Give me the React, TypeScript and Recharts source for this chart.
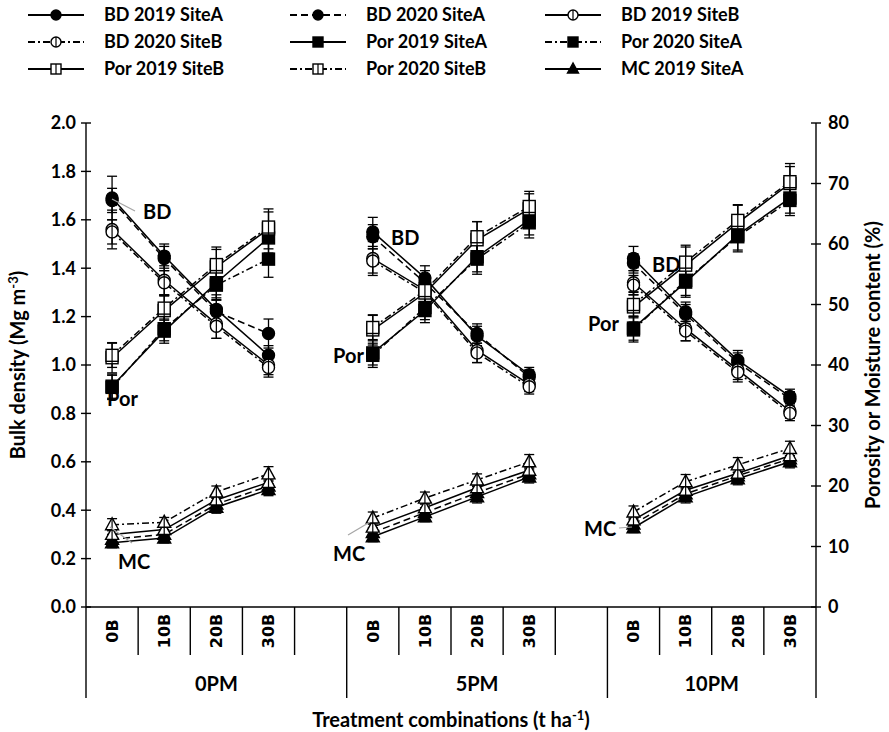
import React from 'react';
import { LineChart, Line, XAxis, YAxis, ErrorBar } from 'recharts';

// ---------- data ----------
const categories = ['0B', '10B', '20B', '30B', '', '0B', '10B', '20B', '30B', '', '0B', '10B', '20B', '30B'];
const groupNames = ['0PM', '5PM', '10PM'];
const groupStart = [0, 5, 10];
const groupSize = [5, 5, 4];
const pointSlots = [0, 1, 2, 3, 5, 6, 7, 8, 10, 11, 12, 13];
const leftTicks = [0, 0.2, 0.4, 0.6, 0.8, 1.0, 1.2, 1.4, 1.6, 1.8, 2.0];
const rightTicks = [0, 10, 20, 30, 40, 50, 60, 70, 80];

// values ordered: 0PM(0B,10B,20B,30B), 5PM(...), 10PM(...)
const bd2019A = [1.69, 1.45, 1.23, 1.04, 1.55, 1.36, 1.12, 0.96, 1.44, 1.22, 1.02, 0.87];
const bd2020A = [1.68, 1.44, 1.22, 1.13, 1.53, 1.34, 1.13, 0.95, 1.42, 1.21, 1.01, 0.86];
const bd2019B = [1.56, 1.35, 1.17, 1.0, 1.44, 1.31, 1.06, 0.92, 1.34, 1.15, 0.98, 0.81];
const bd2020B = [1.55, 1.34, 1.16, 0.99, 1.43, 1.3, 1.05, 0.91, 1.33, 1.14, 0.97, 0.8];
const por2019A = [36.5, 45.6, 53.6, 61.0, 42.0, 49.0, 57.9, 64.0, 46.1, 53.7, 61.5, 67.6];
const por2020A = [36.3, 46.0, 53.2, 57.5, 41.6, 49.5, 57.5, 63.5, 45.8, 54.0, 61.2, 67.2];
const por2019B = [41.2, 49.0, 56.2, 62.5, 45.8, 51.9, 60.7, 65.8, 49.6, 56.5, 63.5, 70.0];
const por2020B = [41.6, 49.4, 56.6, 62.8, 46.2, 52.3, 61.2, 66.2, 50.0, 57.0, 63.9, 70.3];
const mc2019A = [10.6, 11.4, 16.5, 19.4, 11.6, 14.9, 18.2, 21.5, 13.1, 18.2, 21.2, 24.0];
const mc2020A = [11.2, 12.0, 17.0, 20.0, 12.3, 15.6, 18.9, 22.0, 13.7, 18.7, 21.7, 24.5];
const mc2019B = [12.0, 12.8, 17.7, 20.6, 13.2, 16.4, 19.7, 22.6, 14.4, 19.3, 22.1, 25.0];
const mc2020B = [13.6, 14.0, 19.0, 22.0, 14.7, 18.0, 21.0, 24.0, 15.7, 20.7, 23.5, 26.2];

const bd2019AErr = [0.09, 0.05, 0.06, 0.04, 0.06, 0.05, 0.04, 0.03, 0.05, 0.04, 0.04, 0.03];
const bd2020AErr = [0.05, 0.05, 0.05, 0.06, 0.05, 0.05, 0.04, 0.03, 0.04, 0.04, 0.04, 0.03];
const bd2019BErr = [0.08, 0.06, 0.06, 0.04, 0.07, 0.05, 0.05, 0.03, 0.05, 0.05, 0.04, 0.03];
const bd2020BErr = [0.05, 0.05, 0.05, 0.04, 0.05, 0.05, 0.04, 0.03, 0.04, 0.04, 0.04, 0.03];
const por2019AErr = [2.0, 2.0, 2.5, 2.5, 2.0, 2.0, 2.5, 2.5, 2.0, 2.5, 2.5, 2.5];
const por2020AErr = [2.0, 2.0, 2.5, 3.0, 2.0, 2.0, 2.5, 2.5, 2.0, 2.5, 2.5, 2.5];
const por2019BErr = [2.5, 2.5, 3.3, 3.3, 2.5, 2.5, 3.0, 2.5, 2.5, 3.3, 3.0, 3.3];
const por2020BErr = [2.0, 2.0, 2.5, 2.5, 2.0, 2.0, 2.5, 2.5, 2.0, 2.5, 2.5, 2.5];
const mc2019AErr = [0.8, 0.8, 1.0, 1.0, 0.8, 0.8, 1.0, 1.0, 0.8, 1.0, 1.0, 1.0];
const mc2020AErr = [0.8, 0.8, 1.0, 1.0, 0.8, 0.8, 1.0, 1.0, 0.8, 1.0, 1.0, 1.0];
const mc2019BErr = [0.8, 0.8, 1.0, 1.0, 0.8, 0.8, 1.0, 1.0, 0.8, 1.0, 1.0, 1.0];
const mc2020BErr = [1.0, 0.8, 1.0, 1.2, 1.0, 1.0, 1.0, 1.2, 1.0, 1.2, 1.2, 1.2];

const seriesList = [
  { key: 'bd2019A', name: 'BD 2019 SiteA', values: bd2019A, errors: bd2019AErr, axis: 'left', legend: true },
  { key: 'bd2020A', name: 'BD 2020 SiteA', values: bd2020A, errors: bd2020AErr, axis: 'left', legend: true },
  { key: 'bd2019B', name: 'BD 2019 SiteB', values: bd2019B, errors: bd2019BErr, axis: 'left', legend: true },
  { key: 'bd2020B', name: 'BD 2020 SiteB', values: bd2020B, errors: bd2020BErr, axis: 'left', legend: true },
  { key: 'por2019A', name: 'Por 2019 SiteA', values: por2019A, errors: por2019AErr, axis: 'right', legend: true },
  { key: 'por2020A', name: 'Por 2020 SiteA', values: por2020A, errors: por2020AErr, axis: 'right', legend: true },
  { key: 'por2019B', name: 'Por 2019 SiteB', values: por2019B, errors: por2019BErr, axis: 'right', legend: true },
  { key: 'por2020B', name: 'Por 2020 SiteB', values: por2020B, errors: por2020BErr, axis: 'right', legend: true },
  { key: 'mc2019A', name: 'MC 2019 SiteA', values: mc2019A, errors: mc2019AErr, axis: 'right', legend: true },
  { key: 'mc2020A', name: 'MC 2020 SiteA', values: mc2020A, errors: mc2020AErr, axis: 'right', legend: false },
  { key: 'mc2019B', name: 'MC 2019 SiteB', values: mc2019B, errors: mc2019BErr, axis: 'right', legend: false },
  { key: 'mc2020B', name: 'MC 2020 SiteB', values: mc2020B, errors: mc2020BErr, axis: 'right', legend: false },
];

// ---------- styles ----------
const DASHED = '7 4';
const DASHDOT = '7 3 2 3';
const styleMap: Record<string, { dash?: string; shape: string; filled: boolean }> = {
  bd2019A: { shape: 'circle', filled: true },
  bd2020A: { dash: DASHED, shape: 'circle', filled: true },
  bd2019B: { shape: 'circle', filled: false },
  bd2020B: { dash: DASHDOT, shape: 'circle', filled: false },
  por2019A: { shape: 'square', filled: true },
  por2020A: { dash: DASHDOT, shape: 'square', filled: true },
  por2019B: { shape: 'square', filled: false },
  por2020B: { dash: DASHDOT, shape: 'square', filled: false },
  mc2019A: { shape: 'triangle', filled: true },
  mc2020A: { dash: DASHED, shape: 'triangle', filled: true },
  mc2019B: { shape: 'triangle', filled: false },
  mc2020B: { dash: DASHDOT, shape: 'triangle', filled: false },
};

const data = categories.map((c, i) => {
  const row: any = { slot: `s${i}`, cat: c };
  const p = pointSlots.indexOf(i);
  seriesList.forEach((s) => {
    row[s.key] = p >= 0 ? s.values[p] : null;
    row[s.key + 'Err'] = p >= 0 ? s.errors[p] : undefined;
  });
  return row;
});

// ---------- layout ----------
const W = 889;
const H = 732;
const PLOT_L = 86;
const PLOT_R = 816;
const PLOT_T = 123;
const PLOT_B = 607;
const BW = (PLOT_R - PLOT_L) / categories.length;
const FONT = "Lato, Carlito, 'Open Sans', sans-serif";

function Marker({ shape, filled, cx, cy, s = 6 }: any) {
  const fill = filled ? '#000' : '#fff';
  const common = { fill, stroke: '#000', strokeWidth: 1.4 };
  let m: any = null;
  if (shape === 'circle') m = <circle cx={cx} cy={cy} r={s} {...common} />;
  else if (shape === 'square') m = <rect x={cx - s} y={cy - s} width={2 * s} height={2 * s} {...common} />;
  else m = <polygon points={`${cx},${cy - s - 1} ${cx - s - 0.5},${cy + s - 1} ${cx + s + 0.5},${cy + s - 1}`} {...common} />;
  return (
    <g>
      {m}
      {!filled && <line x1={cx} x2={cx} y1={cy - s} y2={cy + s} stroke="#000" strokeWidth={1.2} />}
    </g>
  );
}

const makeDot = (shape: string, filled: boolean) => (props: any) => {
  const { cx, cy, index } = props;
  if (cx == null || cy == null || Number.isNaN(cy) || props.value == null) return <g key={`d${index}`} />;
  return (
    <g key={`d${index}`}>
      <Marker shape={shape} filled={filled} cx={cx} cy={cy} />
    </g>
  );
};

function XTick(props: any) {
  const { x, y, index } = props;
  const label = categories[index];
  const gi = groupStart.indexOf(index);
  const isGroupEnd = groupStart.some((g, k) => g + groupSize[k] - 1 === index);
  return (
    <g>
      {index === 0 && <line x1={x - BW / 2} x2={x - BW / 2} y1={y} y2={y + 91} stroke="#000" strokeWidth={1.4} />}
      <line x1={x + BW / 2} x2={x + BW / 2} y1={y} y2={y + (isGroupEnd ? 91 : 48)} stroke="#000" strokeWidth={1.4} />
      {label && (
        <text
          transform={`translate(${x},${y + 24}) rotate(-90)`}
          textAnchor="middle"
          dy="0.36em"
          fontFamily="'DejaVu Sans', sans-serif"
          fontWeight="bold"
          fontSize={16}
          fill="#000"
        >
          {label}
        </text>
      )}
      {gi >= 0 && (
        <text
          x={x + ((groupSize[gi] - 1) / 2) * BW}
          y={y + 84}
          textAnchor="middle"
          fontFamily={FONT}
          fontWeight="bold"
          fontSize={20}
          fill="#000"
        >
          {groupNames[gi]}
        </text>
      )}
    </g>
  );
}

function LeftTick(props: any) {
  const { x, y, payload } = props;
  const ax = x + 10;
  return (
    <g>
      <line x1={ax - 5} x2={ax + 5} y1={y} y2={y} stroke="#000" strokeWidth={1.4} />
      <text x={x} y={y} dy="0.35em" textAnchor="end" fontFamily={FONT} fontWeight="bold" fontSize={18} fill="#000">
        {Number(payload.value).toFixed(1)}
      </text>
    </g>
  );
}

function RightTick(props: any) {
  const { x, y, payload } = props;
  const ax = x - 12;
  return (
    <g>
      <line x1={ax - 5} x2={ax + 5} y1={y} y2={y} stroke="#000" strokeWidth={1.4} />
      <text x={x} y={y} dy="0.35em" textAnchor="start" fontFamily={FONT} fontWeight="bold" fontSize={18} fill="#000">
        {payload.value}
      </text>
    </g>
  );
}

const legendCols = [28, 290, 545];
const legendRows = [15, 42, 69];

function Legend() {
  const items = seriesList.filter((s) => s.legend);
  return (
    <g>
      {items.map((s, i) => {
        const col = i % 3;
        const row = Math.floor(i / 3);
        const x0 = legendCols[col];
        const y = legendRows[row];
        const st = styleMap[s.key];
        return (
          <g key={s.key}>
            <line x1={x0} x2={x0 + 56} y1={y} y2={y} stroke="#000" strokeWidth={1.8} strokeDasharray={st.dash} />
            <Marker shape={st.shape} filled={st.filled} cx={x0 + 28} cy={y} s={5} />
            <text x={x0 + 76} y={y} dy="0.35em" fontFamily={FONT} fontWeight="bold" fontSize={18} fill="#000">
              {s.name}
            </text>
          </g>
        );
      })}
    </g>
  );
}

const annotations = [
  { text: 'BD', x: 143, y: 219, line: [112, 199, 135, 211] },
  { text: 'Por', x: 107, y: 406 },
  { text: 'MC', x: 118, y: 569, line: [110, 527, 132, 543] },
  { text: 'BD', x: 391, y: 245 },
  { text: 'Por', x: 333, y: 363 },
  { text: 'MC', x: 333, y: 561, line: [348, 535, 370, 522] },
  { text: 'BD', x: 652, y: 272 },
  { text: 'Por', x: 588, y: 331 },
  { text: 'MC', x: 584, y: 536, line: [619, 528, 632, 527] },
];

export default function App() {
  return (
    <div style={{ position: 'absolute', left: 0, top: 0, width: W, height: H, background: '#fff' }}>
      <div style={{ position: 'absolute', left: 0, top: 0 }}>
        <LineChart
          width={W}
          height={H}
          data={data}
          margin={{ top: PLOT_T, right: W - PLOT_R - 60, bottom: H - PLOT_B - 110, left: PLOT_L - 60 }}
        >
          <XAxis
            dataKey="slot"
            scale="band"
            interval={0}
            height={110}
            tickSize={0}
            tickMargin={0}
            tickLine={false}
            axisLine={{ stroke: '#000', strokeWidth: 1.4 }}
            tick={<XTick />}
          />
          <YAxis
            yAxisId="left"
            orientation="left"
            width={60}
            domain={[0, 2]}
            ticks={leftTicks}
            interval={0}
            tickSize={0}
            tickMargin={10}
            tickLine={false}
            axisLine={{ stroke: '#000', strokeWidth: 1.4 }}
            tick={<LeftTick />}
          />
          <YAxis
            yAxisId="right"
            orientation="right"
            width={60}
            domain={[0, 80]}
            ticks={rightTicks}
            interval={0}
            tickSize={0}
            tickMargin={12}
            tickLine={false}
            axisLine={{ stroke: '#000', strokeWidth: 1.4 }}
            tick={<RightTick />}
          />
          {seriesList.map((s) => {
            const st = styleMap[s.key];
            return (
              <Line
                key={s.key}
                yAxisId={s.axis}
                dataKey={s.key}
                name={s.name}
                stroke="#000"
                strokeWidth={1.5}
                strokeDasharray={st.dash}
                dot={makeDot(st.shape, st.filled)}
                activeDot={false}
                connectNulls={false}
                isAnimationActive={false}
              >
                <ErrorBar dataKey={s.key + 'Err'} width={5} stroke="#000" strokeWidth={1.3} direction="y" />
              </Line>
            );
          })}
        </LineChart>
      </div>
      <svg width={W} height={H} style={{ position: 'absolute', left: 0, top: 0, pointerEvents: 'none' }}>
        <Legend />
        {annotations.map((a, i) => (
          <g key={i}>
            {a.line && <line x1={a.line[0]} y1={a.line[1]} x2={a.line[2]} y2={a.line[3]} stroke="#a6a6a6" strokeWidth={1.2} />}
            <text x={a.x} y={a.y} fontFamily={FONT} fontWeight="bold" fontSize={20} fill="#000">
              {a.text}
            </text>
          </g>
        ))}
        <text
          transform={`translate(25,${(PLOT_T + PLOT_B) / 2}) rotate(-90)`}
          textAnchor="middle"
          fontFamily={FONT}
          fontWeight="bold"
          fontSize={20}
          fill="#000"
        >
          Bulk density (Mg m<tspan dy={-7} fontSize={13}>-3</tspan>
          <tspan dy={7}>)</tspan>
        </text>
        <text
          transform={`translate(880,${(PLOT_T + PLOT_B) / 2}) rotate(-90)`}
          textAnchor="middle"
          fontFamily={FONT}
          fontWeight="bold"
          fontSize={20}
          fill="#000"
        >
          Porosity or Moisture content (%)
        </text>
        <text x={451} y={727} textAnchor="middle" fontFamily={FONT} fontWeight="bold" fontSize={20} fill="#000">
          Treatment combinations (t ha<tspan dy={-7} fontSize={13}>-1</tspan>
          <tspan dy={7}>)</tspan>
        </text>
      </svg>
    </div>
  );
}
